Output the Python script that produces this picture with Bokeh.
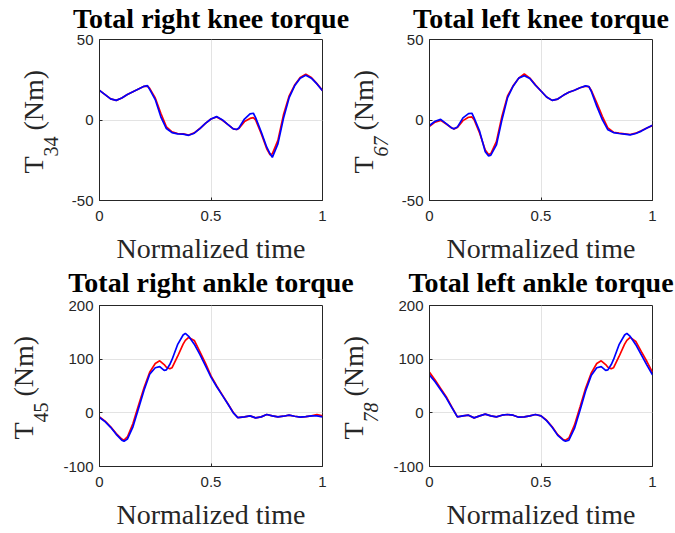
import math
from bokeh.plotting import figure
from bokeh.layouts import row, column
from bokeh.models import Label, FixedTicker, Range1d
from bokeh.embed import file_html
from bokeh.resources import INLINE

# ---------------- data ----------------
x_ticks = [0, 0.5, 1]
x_tick_labels = ["0", "0.5", "1"]
knee_y_ticks = [-50, 0, 50]
knee_y_tick_labels = ["-50", "0", "50"]
ankle_y_ticks = [-100, 0, 100, 200]
ankle_y_tick_labels = ["-100", "0", "100", "200"]

titles = ["Total right knee torque", "Total left knee torque",
          "Total right ankle torque", "Total left ankle torque"]
subscripts = ["34", "67", "45", "78"]
x_label = "Normalized time"

# Total right knee torque
rk_t = [0, .025, .05, .075, .1, .125, .15, .175, .2, .215, .225, .25, .275, .3, .325,
        .35, .375, .4, .425, .45, .475, .5, .525, .55, .575, .6, .615, .625, .65, .675,
        .69, .7, .725, .75, .765, .775, .8, .825, .85, .875, .9, .925, .95, .975, 1.0]
rk_red = [18.4, 15.8, 13.1, 12.2, 13.7, 15.8, 17.5, 19.2, 20.9, 21.1, 19.6, 13.7, 4.2, -4.2, -7.4,
          -8.4, -8.6, -9.3, -8.0, -5.3, -2.1, 0.6, 1.9, 0.0, -2.7, -5.5, -5.9, -5.3, -1.0, 1.0,
          1.5, 0.0, -8.4, -17.9, -21.7, -21.0, -12.7, 3.2, 14.8, 21.7, 26.4, 28.5, 26.4, 22.6, 18.4]
rk_blue = [18.4, 15.8, 13.1, 12.2, 13.7, 15.8, 17.5, 19.2, 20.9, 21.3, 19.0, 12.7, 2.0, -5.3, -7.8,
           -8.6, -8.8, -9.5, -8.2, -5.3, -2.1, 0.6, 2.1, 0.2, -2.7, -5.5, -5.9, -5.0, 0.6, 3.8,
           4.2, 1.5, -7.4, -16.9, -21.0, -23.2, -14.8, 1.0, 13.7, 21.2, 26.0, 27.8, 26.0, 22.4, 18.2]

# Total left knee torque
lk_t = [0, .025, .05, .075, .1, .11, .125, .15, .175, .19, .2, .225, .25, .265, .275,
        .3, .325, .35, .375, .4, .425, .45, .475, .5, .525, .55, .575, .6, .625, .65,
        .675, .7, .715, .725, .75, .775, .8, .825, .85, .875, .9, .925, .95, .975, 1.0]
lk_red = [-4.0, -1.3, -0.2, -2.5, -5.0, -5.5, -4.6, -0.4, 1.7, 1.9, 0.2, -8.2, -18.7, -21.4, -20.8,
          -13.4, 2.3, 14.9, 21.2, 26.0, 28.6, 26.0, 21.8, 18.0, 14.3, 12.2, 13.0, 15.3, 17.2, 18.5,
          20.0, 21.0, 20.6, 18.5, 10.7, 2.3, -5.0, -7.6, -8.2, -8.6, -9.0, -8.2, -6.7, -5.0, -3.4]
lk_blue = [-3.4, -0.8, 0.4, -2.3, -5.0, -5.5, -4.4, 1.3, 4.0, 4.2, 1.3, -7.1, -19.7, -22.3, -21.8,
           -15.5, 0.2, 13.9, 21.0, 26.0, 27.5, 25.8, 21.6, 18.0, 14.3, 12.2, 13.0, 15.3, 17.2, 18.5,
           20.0, 21.2, 20.8, 18.0, 8.6, 0.2, -6.1, -7.8, -8.4, -8.8, -9.2, -8.4, -6.9, -5.0, -3.2]

# Total right ankle torque
ra_t = [0, .025, .05, .075, .1, .11, .125, .15, .175, .2, .225, .25, .27, .29, .3,
        .315, .325, .35, .375, .385, .4, .425, .45, .475, .5, .525, .55, .575, .6, .62,
        .65, .675, .7, .725, .75, .775, .8, .825, .85, .875, .9, .925, .95, .975, 1.0]
ra_red = [-7.5, -15.6, -26.0, -38.8, -49.0, -51.0, -45.0, -20.0, 14.0, 47.0, 75.6, 92.0, 97.0, 90.0, 85.0,
          82.0, 84.0, 105.0, 128.0, 135.0, 140.6, 135.0, 114.0, 92.5, 68.8, 50.6, 34.0, 17.5, 0.6, -8.8,
          -7.5, -5.6, -9.4, -7.5, -3.1, -5.6, -7.5, -6.3, -4.4, -6.3, -8.1, -6.9, -5.6, -3.1, -5.6]
ra_blue = [-8.8, -16.5, -27.0, -40.0, -51.0, -53.0, -49.0, -26.0, 8.0, 42.5, 72.0, 84.0, 86.0, 79.0, 80.0,
           90.0, 99.0, 127.0, 145.0, 148.0, 142.5, 128.0, 109.0, 88.0, 66.5, 49.0, 33.0, 17.0, 0.0, -8.8,
           -7.5, -5.6, -9.4, -7.5, -3.1, -5.6, -7.5, -6.3, -4.4, -6.3, -8.1, -6.9, -5.6, -5.6, -7.5]

# Total left ankle torque
la_t = [0, .025, .05, .075, .1, .125, .15, .175, .2, .225, .25, .275, .3, .325, .35,
        .375, .4, .425, .45, .475, .5, .525, .55, .575, .6, .61, .625, .65, .675, .7,
        .725, .75, .77, .79, .8, .815, .825, .85, .875, .885, .9, .925, .95, .975, 1.0]
la_red = [75.6, 61.0, 45.6, 30.0, 11.0, -7.5, -5.6, -4.4, -9.4, -5.6, -2.5, -5.6, -7.5, -4.4, -3.1,
          -4.4, -8.1, -7.5, -5.6, -3.1, -5.6, -13.8, -26.0, -40.6, -50.0, -51.0, -47.0, -23.0, 11.0, 45.6,
          73.8, 92.0, 97.0, 90.0, 85.0, 82.0, 84.0, 105.0, 128.0, 135.0, 140.6, 133.0, 114.0, 95.6, 75.6]
la_blue = [70.6, 58.0, 43.0, 28.0, 10.0, -7.5, -5.6, -4.4, -9.4, -5.6, -2.5, -5.6, -7.5, -4.4, -3.1,
           -4.4, -8.1, -7.5, -5.6, -3.1, -5.6, -14.5, -27.0, -42.0, -51.0, -53.0, -51.0, -29.0, 5.0, 40.6,
           69.4, 84.0, 86.0, 79.0, 80.0, 90.0, 99.0, 127.0, 145.0, 148.0, 142.5, 127.0, 108.0, 89.0, 70.6]

# ---------------- styling / layout ----------------
W, H = 675, 533
FRAME_W, FRAME_H = 223, 161
AX_COLOR = "#262626"
GRID_COLOR = "#e3e3e3"
SERIF = "Liberation Serif"
SANS = "Liberation Sans"
BIG = 28     # px, titles and axis labels
SUB = 20     # px, subscripts


def make_panel(t, red, blue, yr, yticks, ytick_labels, width, height, left, right, bottom):
    p = figure(width=width, height=height, x_range=Range1d(0, 1), y_range=Range1d(*yr),
               output_backend="svg", toolbar_location=None,
               min_border_left=left, min_border_right=right,
               min_border_top=39, min_border_bottom=bottom,
               background_fill_color="white", border_fill_alpha=0)
    p.outline_line_color = AX_COLOR
    p.outline_line_width = 1
    p.outline_line_alpha = 1

    p.xaxis.ticker = FixedTicker(ticks=x_ticks)
    p.xaxis.major_label_overrides = dict(zip(x_ticks, x_tick_labels))
    p.yaxis.ticker = FixedTicker(ticks=yticks)
    p.yaxis.major_label_overrides = dict(zip(yticks, ytick_labels))
    for ax in (p.xaxis, p.yaxis):
        ax.axis_line_color = AX_COLOR
        ax.major_tick_line_color = AX_COLOR
        ax.major_tick_in = 3
        ax.major_tick_out = 0
        ax.minor_tick_line_color = None
        ax.major_label_text_font = SANS
        ax.major_label_text_font_size = "15px"
        ax.major_label_text_color = AX_COLOR
    p.xaxis.major_label_standoff = 10
    p.yaxis.major_label_standoff = 6
    p.xgrid.grid_line_color = GRID_COLOR
    p.ygrid.grid_line_color = GRID_COLOR

    p.line(t, red, line_color="#ff0000", line_width=1.7)
    p.line(t, blue, line_color="#0000ff", line_width=1.7)
    return p


p1 = make_panel(rk_t, rk_red, rk_blue, (-50, 50), knee_y_ticks, knee_y_tick_labels,
                337, 266, 99, 15, 66)
p2 = make_panel(lk_t, lk_red, lk_blue, (-50, 50), knee_y_ticks, knee_y_tick_labels,
                338, 266, 92, 23, 66)
p3 = make_panel(ra_t, ra_red, ra_blue, (-100, 200), ankle_y_ticks, ankle_y_tick_labels,
                337, 267, 99, 15, 67)
p4 = make_panel(la_t, la_red, la_blue, (-100, 200), ankle_y_ticks, ankle_y_tick_labels,
                338, 267, 92, 23, 67)

# Transparent overlay for the texts that lie outside the plot frames
ov = figure(width=W, height=H, x_range=Range1d(0, 1), y_range=Range1d(0, 1),
            output_backend="svg", toolbar_location=None, x_axis_type=None, y_axis_type=None,
            min_border=0, background_fill_alpha=0, border_fill_alpha=0,
            outline_line_color=None, margin=(-H, 0, 0, 0))
ov.grid.visible = False


def shift(fs):
    # the rendered baseline sits this far below / right of the anchor
    return 0.35 * fs


# page-pixel geometry: (frame left, frame bottom, title baseline, T baseline x, sub baseline x)
frames = [(99, 200, 28, 43, 57), (429, 200, 28, 373, 387),
          (99, 466, 292, 33, 47), (429, 466, 292, 363, 377)]
rot = math.pi / 2
for i, (fl, fb, tb, tx, sx) in enumerate(frames):
    cx = fl + FRAME_W / 2
    ov.add_layout(Label(x=cx, y=H - (tb - shift(BIG)), x_units="screen", y_units="screen",
                        text=titles[i], text_align="center", text_baseline="alphabetic",
                        text_font=SERIF, text_font_size=f"{BIG}px", text_font_style="bold",
                        text_color="black"))
    ov.add_layout(Label(x=cx, y=H - (fb + 58 - shift(BIG)), x_units="screen", y_units="screen",
                        text=x_label, text_align="center", text_baseline="alphabetic",
                        text_font=SERIF, text_font_size=f"{BIG}px", text_color=AX_COLOR))
    ov.add_layout(Label(x=tx - shift(BIG), y=H - (fb - 27), x_units="screen", y_units="screen",
                        angle=rot, text="T", text_align="left", text_baseline="alphabetic",
                        text_font=SERIF, text_font_size=f"{BIG}px", text_color=AX_COLOR))
    ov.add_layout(Label(x=sx - shift(SUB), y=H - (fb - 44), x_units="screen", y_units="screen",
                        angle=rot, text=subscripts[i], text_align="left", text_baseline="alphabetic",
                        text_font=SERIF, text_font_size=f"{SUB}px",
                        text_font_style="italic" if i % 2 == 1 else "normal",
                        text_color=AX_COLOR))
    ov.add_layout(Label(x=tx - shift(BIG), y=H - (fb - 70), x_units="screen", y_units="screen",
                        angle=rot, text="(Nm)", text_align="left", text_baseline="alphabetic",
                        text_font=SERIF, text_font_size=f"{BIG}px", text_color=AX_COLOR))

layout = column(row(p1, p2), row(p3, p4), ov)

with open("out.html", "w") as f:
    f.write(file_html(layout, INLINE))
